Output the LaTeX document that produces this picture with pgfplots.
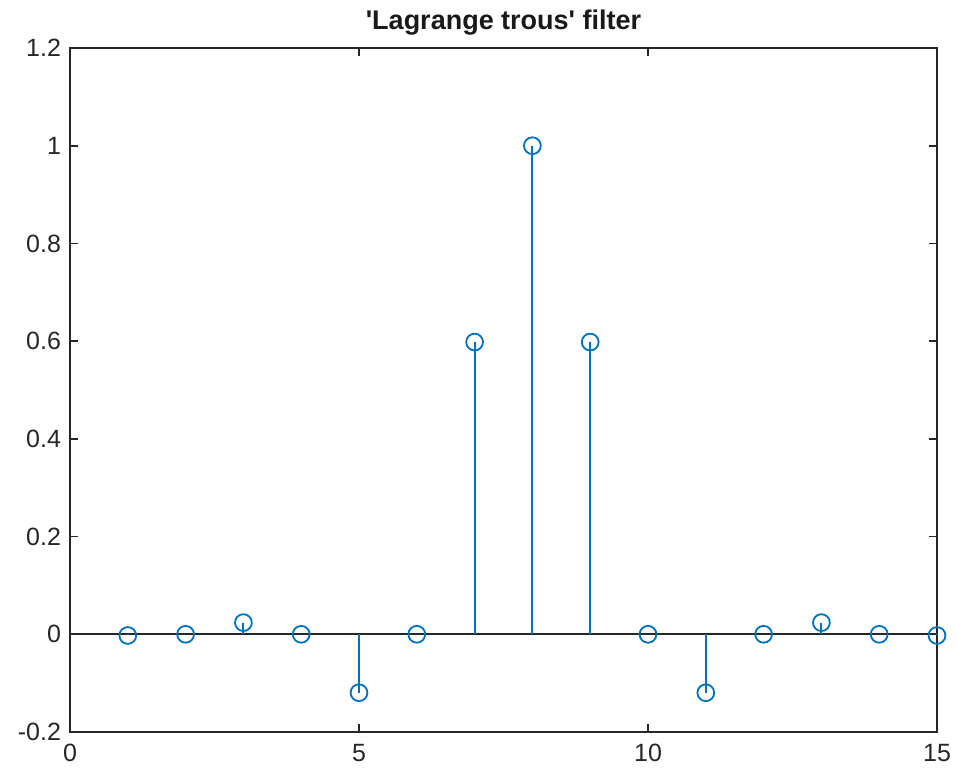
\documentclass[border=0pt]{standalone}
\usepackage{pgfplots}
\pgfplotsset{compat=1.18}
\usepackage{fontspec}
\setmainfont{Liberation Sans}
\definecolor{mblue}{rgb}{0,0.447,0.741}
\definecolor{axgray}{rgb}{0.15,0.15,0.15}
\begin{document}
\begin{tikzpicture}
\path[use as bounding box] (-35pt,-22pt) rectangle (443.5pt,366pt);
\begin{axis}[
  at={(0,0)}, anchor=south west,
  scale only axis, width=433.5pt, height=342pt,
  xmin=0, xmax=15, ymin=-0.2, ymax=1.2,
  xtick={0,5,10,15}, ytick={-0.2,0,0.2,0.4,0.6,0.8,1,1.2},
  yticklabels={-0.2,0,0.2,0.4,0.6,0.8,1,1.2},
  xticklabels={0,5,10,15},
  tick align=inside, major tick length=4pt,
  axis line style={axgray, line width=0.9pt},
  every tick/.style={axgray, line width=0.9pt},
  tick label style={font=\fontsize{12.5}{14}\selectfont, color=axgray},
  yticklabel style={xshift=-1pt},
  xticklabel style={yshift=-2.5pt},
  /pgf/number format/assume math mode=true,
  title={\textbf{\textquotesingle Lagrange trous\textquotesingle\ filter}},
  title style={font=\fontsize{13.5}{15}\selectfont, color=black!90, yshift=-3pt},
  clip=false,
]
\addplot[axgray, line width=0.9pt, no marks] coordinates {(0,0) (15,0)};
\addplot[ycomb, mblue, line width=1pt, mark=o, mark size=4.2pt, mark options={line width=0.9pt}]
coordinates {
(1,-0.00244) (2,0) (3,0.0239) (4,0) (5,-0.1196) (6,0) (7,0.5981) (8,1)
(9,0.5981) (10,0) (11,-0.1196) (12,0) (13,0.0239) (14,0) (15,-0.00244)
};
\end{axis}
\end{tikzpicture}
\end{document}
